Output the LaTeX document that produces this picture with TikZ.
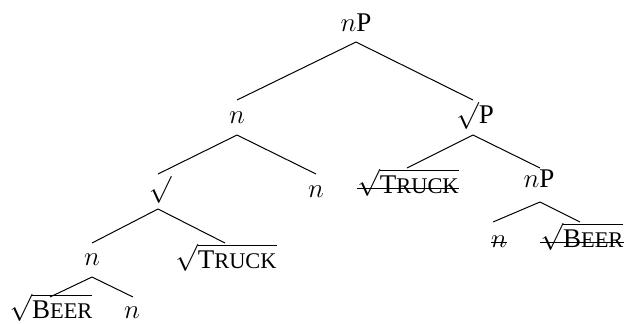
\RequirePackage{fix-cm}
\documentclass[tikz,border=0pt]{standalone}
\usepackage{fontspec}
\setmainfont{Liberation Serif}
\newcommand{\fsc}[2]{#1{\fontsize{11.2}{13}\selectfont #2}}
\newcommand{\rt}[1]{$\sqrt{\mbox{#1}}$}
\newcommand{\bare}{$\sqrt{\vphantom{x}}$}
\begin{document}
\begin{tikzpicture}[x=0.5pt,y=-0.5pt,
  lab/.style={inner sep=0pt,anchor=base,font=\fontsize{13.5}{16}\selectfont},
  br/.style={line width=0.5pt},
  strk/.style={line width=0.5pt}]
\useasboundingbox (0,0) rectangle (625,323);
\node[lab] (r) at (356,31) {$n$P};
\node[lab] (n1) at (237,123) {$n$};
\node[lab] (sP) at (475,123) {\bare P};
\node[lab] (sq) at (160,197) {\bare};
\node[lab] (n2) at (316,197) {$n$};
\node[lab] (t1) at (408,193) {\rt{\fsc{T}{RUCK}}};
\node[lab] (nP2) at (539,187) {$n$P};
\node[lab] (n3) at (92,265) {$n$};
\node[lab] (t2) at (226,268) {\rt{\fsc{T}{RUCK}}};
\node[lab] (ns) at (499,247) {$n$};
\node[lab] (b2) at (582,247) {\rt{\fsc{B}{EER}}};
\node[lab] (b1) at (51,318) {\rt{\fsc{B}{EER}}};
\node[lab] (n4) at (132,318) {$n$};
\foreach \a/\b/\sxa/\sya/\sxb/\syb in {
  r/n1/0/11/0/-23, r/sP/0/11/-2/-23,
  n1/sq/0/12/-2/-23, n1/n2/0/12/0/-23,
  sP/t1/-2/12/-1/-25, sP/nP2/-2/12/1/-19,
  sq/n3/-2/12/0/-22, sq/t2/-2/12/-1/-25,
  n3/b1/0/12/-1/-21, n3/n4/0/12/1/-21,
  nP2/ns/1/15/-6/-25, nP2/b2/1/15/-2/-25}
  \draw[br] ([shift={(\sxa,\sya)}]\a.base) -- ([shift={(\sxb,\syb)}]\b.base);
\foreach \s in {t1,ns,b2}
  \draw[strk] ([yshift=0.25em]\s.base west) -- ([yshift=0.25em]\s.base east);
\end{tikzpicture}
\end{document}
